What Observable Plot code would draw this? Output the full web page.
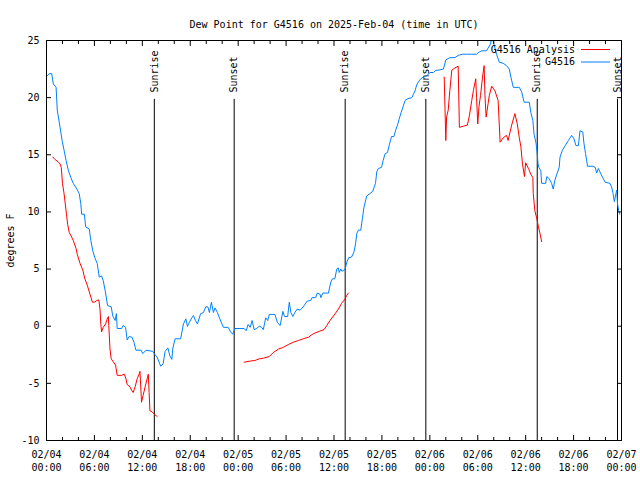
<!DOCTYPE html>
<html>
<head>
<meta charset="utf-8">
<script src="https://cdn.jsdelivr.net/npm/d3@7"></script>
<script src="https://cdn.jsdelivr.net/npm/@observablehq/plot@0.6"></script>
<style>
  html, body { margin: 0; padding: 0; background: #fff; }
  svg { display: block; }
</style>
</head>
<body>
<div id="chart"></div>
<script>
const title = "Dew Point for G4516 on 2025-Feb-04 (time in UTC)";
const yLabel = "degrees F";
const startUTC = "2025-02-04T00:00:00Z";
const spanHours = 72;

// Observations (G4516): hours since start, dew point (°F)
const obsHours = [0.1,0.35,0.65,0.85,1.2,1.35,1.7,1.95,2.2,2.45,2.75,3.05,3.35,3.8,4.1,4.3,4.4,4.75,4.9,5.35,5.55,5.8,6.05,6.35,6.6,6.9,7.1,7.35,7.65,8.1,8.3,8.6,8.75,8.85,9.4,9.6,9.9,10.1,10.35,10.7,10.95,11.2,11.85,12.05,12.45,13.3,13.6,13.85,14.3,14.6,14.85,15.2,15.45,15.7,15.8,16.1,16.8,17.15,17.45,17.65,17.9,18.2,18.4,18.65,18.9,19.3,19.65,19.95,20.2,20.4,20.65,20.9,21.1,21.4,21.7,22.15,22.75,23.05,23.3,23.6,24.75,25.0,25.25,25.5,25.75,26.0,26.3,26.65,26.95,27.15,27.45,27.7,27.9,28.6,28.9,29.25,29.6,29.8,30.2,30.4,30.6,30.85,31.1,31.4,31.75,32.15,32.65,33.1,33.25,33.7,33.9,34.25,34.35,34.6,35.3,35.6,35.8,36.1,36.35,36.55,36.65,36.85,37.0,37.4,37.6,37.85,38.2,38.5,38.7,38.85,39.05,39.35,39.55,39.75,40.1,40.5,40.85,41.05,41.2,41.35,41.55,41.95,42.15,42.4,42.7,42.9,43.2,43.5,43.7,43.95,44.15,44.4,44.6,44.9,45.2,45.75,45.95,46.15,46.35,46.55,46.85,47.2,47.6,48.0,48.45,48.75,49.05,49.7,50.0,50.5,51.15,51.55,52.1,52.6,53.25,53.85,54.2,54.5,55.1,55.6,55.8,56.05,56.35,56.7,57.2,57.6,57.95,58.15,58.45,59.2,59.5,59.8,60.45,60.65,60.9,61.05,61.3,61.45,61.55,61.65,61.9,62.0,62.5,62.65,62.95,63.25,63.45,63.65,63.9,64.2,64.3,64.6,64.95,65.35,65.75,66.05,66.3,66.6,66.8,67.15,67.3,67.5,67.75,68.45,68.7,68.9,69.1,69.3,69.65,69.95,70.55,70.75,70.95,71.1,71.3,71.4,71.5,71.65,71.8];
const obsDew = [21.9,22.1,22.1,21.2,20.9,18.9,17.4,16.25,15.4,14.5,13.6,13.0,12.5,12.0,11.6,10.7,9.8,9.8,8.7,8.5,7.5,6.6,6.0,5.5,4.3,4.4,4.0,3.1,1.8,1.7,0.9,0.5,1.1,-0.2,-0.2,0.07,-0.1,-1.2,-0.9,-0.96,-1.4,-2.1,-2.1,-2.4,-2.1,-2.2,-2.5,-2.7,-3.5,-3.3,-2.2,-1.9,-2.6,-2.9,-2.0,-1.1,-1.1,0.2,0.65,-0.02,0.35,0.74,0.94,0.5,0.2,1.1,1.2,1.7,1.7,1.2,2.1,1.2,1.6,1.2,0.65,-0.1,-0.1,-0.5,-0.7,-0.2,-0.2,-0.4,0.15,-0.1,0.5,-0.3,-0.2,0.0,-0.1,-0.3,0.74,0.5,1.03,1.03,0.35,0.06,1.3,0.85,0.85,2.1,1.2,0.85,1.2,1.5,1.4,1.7,2.2,2.25,2.5,2.5,2.9,2.8,2.5,2.9,2.9,3.85,4.15,4.15,5.0,5.1,4.7,5.0,4.8,5.0,5.6,6.0,6.05,6.5,7.2,8.1,8.4,8.4,9.4,10.4,11.4,11.6,11.8,12.2,12.5,13.5,13.8,13.9,14.5,15.1,15.2,15.8,16.6,16.6,17.1,17.6,18.1,18.7,19.1,19.75,19.9,20.0,20.3,20.6,21.1,21.35,21.65,21.8,21.9,22.2,22.2,22.4,22.4,22.5,23.3,23.5,23.5,23.7,23.8,23.8,23.8,23.8,24.0,24.1,24.1,24.7,25.4,24.6,23.8,23.1,23.0,22.8,22.5,21.8,20.9,20.9,20.5,19.6,19.6,18.7,18.0,16.8,16.0,15.1,14.2,13.9,13.6,12.5,12.5,13.1,12.9,12.5,12.0,12.75,13.3,13.9,14.8,15.4,15.8,16.25,16.7,16.4,15.8,15.8,17.1,17.0,16.0,15.1,14.0,14.0,13.9,13.4,13.8,13.5,13.0,12.6,12.5,12.2,11.6,10.9,11.6,11.9,10.7,10.1,9.8];

// Analysis (G4516 Analysis): null marks a gap in the series
const anaHours = [0.8,1.05,1.5,1.7,1.85,2.0,2.2,2.35,2.5,2.65,2.85,3.15,3.35,3.7,3.85,4.2,4.55,4.8,5.1,5.45,5.75,6.0,6.3,6.55,6.7,6.8,6.9,7.1,7.4,7.65,7.75,7.8,7.95,8.1,8.35,8.65,8.85,9.4,9.75,9.95,10.1,10.45,10.65,10.85,11.1,11.35,11.6,11.7,11.9,12.1,12.35,12.6,12.75,12.85,12.95,13.25,13.5,13.85,
  19.0,
  24.75,25.5,26.1,26.65,27.15,27.9,28.4,29.05,29.65,30.3,30.9,31.55,32.15,32.8,33.4,34.15,34.75,35.1,35.5,36.15,36.55,36.95,37.4,37.6,37.8,
  44.0,
  49.8,49.9,50.0,50.1,50.3,50.5,50.75,51.15,51.55,51.7,52.2,52.7,52.95,53.25,53.45,53.75,53.85,54.0,54.15,54.35,54.6,54.8,54.9,55.05,55.3,55.45,55.75,56.15,56.55,56.8,57.2,57.6,57.8,58.25,58.65,58.95,59.2,59.4,59.6,59.85,60.0,60.35,60.65,60.9,60.95,61.15,61.4,61.6,61.8,62.0];
const anaDew = [14.8,14.6,14.35,14.2,13.9,12.5,11.6,10.7,9.8,8.9,8.2,7.8,7.5,6.8,6.3,5.5,4.9,4.15,3.6,2.8,2.1,2.1,2.25,2.3,1.5,0.2,-0.5,-0.1,0.2,0.74,0.85,0.06,-2.0,-2.85,-3.1,-3.4,-4.3,-4.3,-4.2,-4.6,-5.1,-5.3,-5.6,-5.8,-5.3,-4.6,-4.2,-3.95,-6.65,-6.05,-5.3,-4.6,-4.2,-5.8,-7.4,-7.5,-7.7,-7.9,
  null,
  -3.15,-3.05,-3.0,-2.85,-2.8,-2.65,-2.3,-2.0,-1.85,-1.6,-1.4,-1.25,-1.1,-0.96,-0.66,-0.45,-0.3,0.06,0.5,1.1,1.5,2.0,2.4,2.7,2.9,
  null,
  21.8,19.0,16.25,18.3,18.9,20.6,22.4,22.6,22.75,17.4,17.5,17.6,18.4,19.75,20.6,21.65,20.0,17.7,19.2,20.2,21.8,22.8,20.2,18.3,19.5,20.2,21.0,20.6,19.75,16.1,16.5,16.7,16.25,17.6,18.6,17.7,16.5,15.7,14.2,13.1,14.3,13.8,13.3,13.0,11.6,10.1,9.4,8.7,8.1,7.4];

// Sunrise / sunset markers (hours since start)
const eventHours = [13.5, 23.5, 37.4, 47.5, 61.45, 71.5];
const eventLabels = ["Sunrise", "Sunset", "Sunrise", "Sunset", "Sunrise", "Sunset"];

const yTicks = [-10, -5, 0, 5, 10, 15, 20, 25];
const seriesNames = ["G4516 Analysis", "G4516"];
const seriesColors = ["#ff0000", "#0080ff"];

const t0 = new Date(startUTC);
const toDate = h => new Date(t0.getTime() + h * 3600e3);
const tEnd = toDate(spanHours);

const obs = obsHours.map((h, i) => ({time: toDate(h), dew: obsDew[i]}));
const ana = anaHours.map((h, i) => ({time: toDate(h), dew: anaDew[i] == null ? NaN : anaDew[i]}));
const events = eventHours.map((h, i) => ({time: toDate(h), label: eventLabels[i]}));

const majorTicks = d3.utcHour.every(6).range(t0, new Date(tEnd.getTime() + 1));
const minorTicks = d3.utcHour.every(2).range(t0, new Date(tEnd.getTime() + 1)).filter(d => d.getUTCHours() % 6 !== 0);
const fmt = d3.utcFormat("%m/%d\n%H:%M");
const blank = () => "";

const plot = Plot.plot({
  width: 640,
  height: 480,
  marginLeft: 46,
  marginRight: 19,
  marginTop: 40,
  marginBottom: 40,
  style: {fontFamily: "'DejaVu Sans Mono', 'Liberation Mono', monospace", fontSize: "10px", background: "#fff", color: "#000"},
  x: {type: "utc", domain: [t0, tEnd]},
  y: {domain: [-10, 25]},
  marks: [
    Plot.ruleX(events, {x: "time", y1: -10, y2: 19.85, stroke: "#000", strokeWidth: 1}),
    Plot.text(events, {x: "time", y: 20.45, text: "label", rotate: -90, textAnchor: "start", fill: "#000"}),
    Plot.line(ana, {x: "time", y: "dew", stroke: seriesColors[0], strokeWidth: 1, clip: true}),
    Plot.line(obs, {x: "time", y: "dew", stroke: seriesColors[1], strokeWidth: 1, clip: true}),
    Plot.axisY(yTicks, {anchor: "left", tickSize: -5, tickPadding: 12, tickFormat: d => String(d), label: null}),
    Plot.axisY(yTicks, {anchor: "right", tickSize: -5, tickFormat: blank, label: null}),
    Plot.axisX(majorTicks, {anchor: "bottom", tickSize: -5, tickPadding: 13, tickFormat: fmt, lineHeight: 1.3, label: null}),
    Plot.axisX(minorTicks, {anchor: "bottom", tickSize: -3, tickFormat: blank, label: null}),
    Plot.axisX(majorTicks, {anchor: "top", tickSize: -5, tickFormat: blank, label: null}),
    Plot.axisX(minorTicks, {anchor: "top", tickSize: -3, tickFormat: blank, label: null}),
    Plot.frame({stroke: "#000"}),
    Plot.text([title], {text: d => d, frameAnchor: "top", dy: -20, fill: "#000"}),
    Plot.text([yLabel], {text: d => d, frameAnchor: "left", textAnchor: "middle", rotate: -90, dx: -36, fill: "#000"})
  ]
});

// Legend (top right, inside the frame)
const svg = d3.select(plot);
const legend = svg.append("g")
  .attr("font-family", "'DejaVu Sans Mono', 'Liberation Mono', monospace")
  .attr("font-size", 10);
seriesNames.forEach((name, i) => {
  const y = 49.5 + i * 12.5;
  legend.append("text")
    .attr("x", 575).attr("y", y).attr("dy", "0.32em")
    .attr("text-anchor", "end").attr("fill", "#000").text(name);
  legend.append("line")
    .attr("x1", 581).attr("x2", 610).attr("y1", y).attr("y2", y)
    .attr("stroke", seriesColors[i]).attr("stroke-width", 1);
});

document.getElementById("chart").appendChild(plot);
</script>
</body>
</html>
